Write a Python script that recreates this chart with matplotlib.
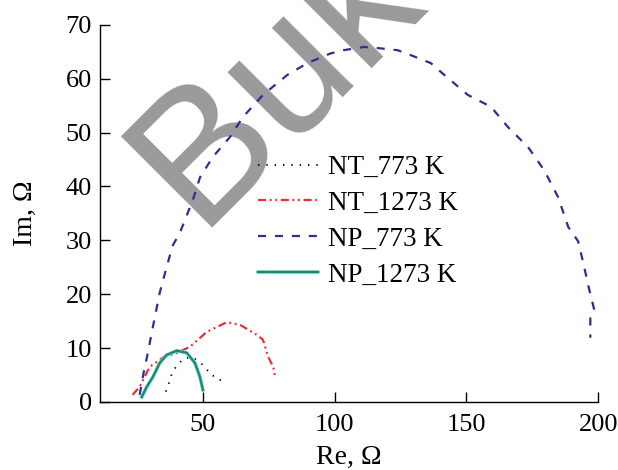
import matplotlib
matplotlib.use('Agg')
import matplotlib.pyplot as plt
import matplotlib.patheffects as pe
import numpy as np

plt.rcParams.update({'font.family': 'serif',
                     'font.serif': ['Liberation Serif', 'DejaVu Serif'],
                     'lines.scale_dashes': False,
                     'font.size': 19})

# NT_773 K
nt773_re = [35.9, 37.1, 38.1, 40.0, 42.9, 46.1, 49.2, 51.1, 53.0, 55.8, 58.0]
nt773_im = [1.9, 3.5, 5.1, 6.7, 8.1, 8.3, 7.2, 6.3, 5.0, 4.5, 3.3]
# NT_1273 K
nt1273_re = [23.3, 26.0, 29.8, 34.8, 40.1, 45.0, 51.5, 59.1, 64.1, 70.6, 72.8, 74.8, 76.7, 77.4]
nt1273_im = [1.3, 2.8, 6.5, 8.2, 9.1, 10.2, 13.0, 14.8, 14.3, 12.4, 11.5, 8.3, 6.5, 4.6]
# NP_773 K
np773_re = [26.0, 27.5, 29.1, 31.3, 33.6, 36.2, 38.6, 41.2, 46.2, 48.9, 53.8, 60.3, 65.2,
            72.8, 82.0, 89.6, 98.4, 103.3, 111.0, 116.3, 123.9, 128.8, 136.5, 140.2, 150.5,
            159.3, 165.8, 173.4, 179.5, 184.8, 188.6, 192.4, 194.7, 196.6, 198.5, 197.0, 197.0]
np773_im = [1.3, 5.4, 9.1, 14.6, 20.2, 25.0, 29.1, 31.3, 37.5, 41.7, 45.5, 49.2, 52.9,
            57.0, 60.7, 62.9, 64.7, 65.3, 65.9, 65.7, 65.3, 64.4, 62.9, 61.3, 57.0,
            54.8, 51.0, 47.3, 43.0, 38.0, 32.5, 29.8, 25.0, 20.8, 17.1, 15.8, 11.9]
# NP_1273 K
np1273_re = [26.8, 28.7, 31.0, 33.6, 36.2, 40.1, 43.9, 47.0, 48.9, 50.0]
np1273_im = [0.9, 2.8, 4.6, 7.2, 8.7, 9.5, 9.1, 7.2, 4.6, 2.2]

labels = ['NT_773 K', 'NT_1273 K', 'NP_773 K', 'NP_1273 K']

fig = plt.figure(figsize=(6.18, 4.70), dpi=100)
ax = fig.add_axes([0.162, 0.145, 0.806, 0.802])

# watermark
ax.text(197 / 618, 1 - 228 / 470, 'Buk', transform=fig.transFigure, rotation=45,
        rotation_mode='anchor', ha='left', va='baseline', color='#9a9a9a',
        fontsize=135, family='Liberation Sans', zorder=0.5, clip_on=False)

LW = 1.6
ax.plot(nt773_re, nt773_im, c='k', lw=1.3, ls=(0, (1.0, 5.0)), label=labels[0], zorder=2)
ax.plot(nt1273_re, nt1273_im, c='#e8303a', lw=LW,
        ls=(0, (5.8, 2.6, 1.4, 2.6, 1.4, 2.6)), label=labels[1], zorder=2)
ax.plot(np773_re, np773_im, c='#2e2e96', lw=LW, ls=(0, (5.8, 6.4)), label=labels[2], zorder=2)
ax.plot(np1273_re, np1273_im, c='#178a70', lw=LW, ls='-', label=labels[3], zorder=2,
        path_effects=[pe.Stroke(linewidth=2.6, foreground='#7fd3cb'), pe.Normal()])

ax.set_xlim(11, 200)
ax.set_ylim(0, 70)
ax.set_xticks([50, 100, 150, 200])
ax.set_yticks(np.arange(0, 71, 10))
for s in ['top', 'right']:
    ax.spines[s].set_visible(False)
ax.spines['left'].set_linewidth(1.0)
ax.spines['bottom'].set_linewidth(1.0)
ax.tick_params(direction='in', length=7, width=1.0, labelsize=19)
ax.tick_params(axis='x', pad=9)
ax.tick_params(axis='y', pad=6)
ax.set_xlabel('Re, Ω', fontsize=20, labelpad=6)
ax.set_ylabel('Im, Ω', fontsize=20, labelpad=20)

ax.legend(loc='upper left', bbox_to_anchor=(258 / 618, 1 - 155 / 470),
          bbox_transform=fig.transFigure, frameon=False, fontsize=19.5,
          handlelength=2.2, handletextpad=0.37, labelspacing=0.4,
          borderpad=0, borderaxespad=0)

fig.savefig('out.png', dpi=100)
